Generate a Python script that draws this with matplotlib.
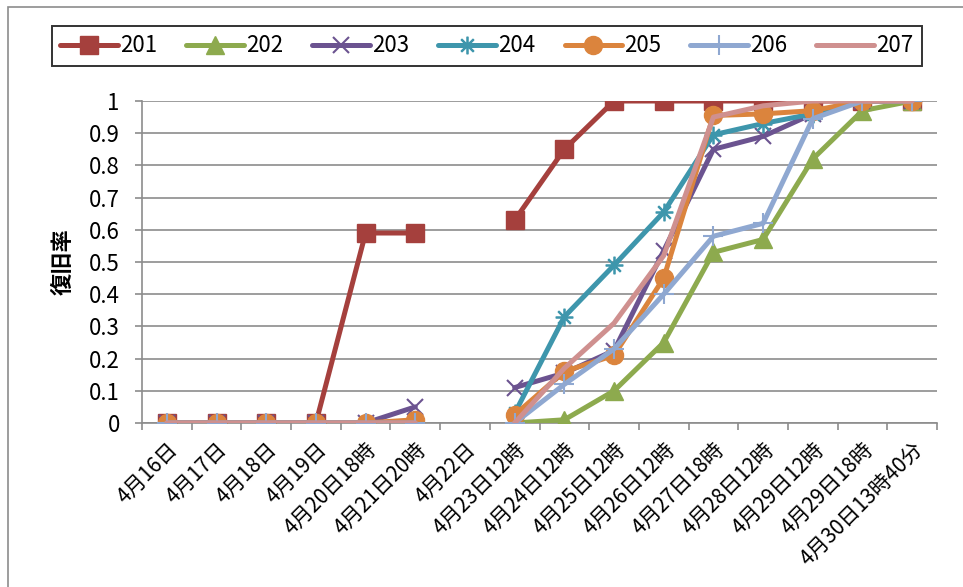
import numpy as np
import matplotlib
matplotlib.use("Agg")
import matplotlib.pyplot as plt
from matplotlib.patches import Rectangle

plt.rcParams['font.family'] = ['Noto Sans CJK JP', 'DejaVu Sans']

categories = ["4月16日", "4月17日", "4月18日", "4月19日", "4月20日18時", "4月21日20時",
              "4月22日", "4月23日12時", "4月24日12時", "4月25日12時", "4月26日12時",
              "4月27日18時", "4月28日12時", "4月29日12時", "4月29日18時", "4月30日13時40分"]
nan = np.nan
s201 = [0, 0, 0, 0, 0.59, 0.59, nan, 0.63, 0.85, 1.0, 1.0, 1.0, 1.0, 1.0, 1.0, 1.0]
s202 = [0, 0, 0, 0, 0, 0, nan, 0.0, 0.01, 0.10, 0.25, 0.53, 0.57, 0.82, 0.97, 1.0]
s203 = [0, 0, 0, 0, 0, 0.05, nan, 0.11, 0.155, 0.225, 0.535, 0.85, 0.89, 0.96, 1.0, 1.0]
s204 = [0, 0, 0, 0, 0, 0, nan, 0.03, 0.33, 0.49, 0.655, 0.895, 0.93, 0.96, 1.0, 1.0]
s205 = [0, 0, 0, 0, 0, 0.01, nan, 0.025, 0.16, 0.21, 0.45, 0.955, 0.96, 0.97, 1.0, 1.0]
s206 = [0, 0, 0, 0, 0, 0, nan, 0.0, 0.12, 0.23, 0.40, 0.58, 0.62, 0.945, 1.0, 1.0]
s207 = [0, 0, 0, 0, 0, 0, nan, 0.0, 0.17, 0.31, 0.52, 0.95, 0.985, 1.0, 1.0, 1.0]
series_names = ["201", "202", "203", "204", "205", "206", "207"]
y_ticks = [0, 0.1, 0.2, 0.3, 0.4, 0.5, 0.6, 0.7, 0.8, 0.9, 1]
y_ticklabels = ["0", "0.1", "0.2", "0.3", "0.4", "0.5", "0.6", "0.7", "0.8", "0.9", "1"]
ylabel = "復旧率"

data = [s201, s202, s203, s204, s205, s206, s207]
colors = ['#A5403D', '#8DAA4E', '#6B5390', '#3E96AC', '#DB843D', '#8FA8D1', '#CF908F']
markers = ['s', '^', 'x', '$\u2733$', 'o', '+', None]
msizes = [13, 13, 12, 12, 13, 14, 0]

fig = plt.figure(figsize=(9.63, 5.87), dpi=100)
ax = fig.add_axes([142 / 963, 1 - 423 / 587, (937 - 142) / 963, (423 - 101) / 587])

# outer chart frame
fig.patches.append(Rectangle((8 / 963, -0.05), 1.2, 1 - 7 / 587 + 0.05, transform=fig.transFigure,
                             fill=False, edgecolor='#8C8C8C', linewidth=1.2))

x = np.arange(len(categories))
handles = []
for name, vals, c, m, ms in zip(series_names, data, colors, markers, msizes):
    if m is None:
        h, = ax.plot(x, vals, color=c, lw=3.6, label=name, solid_capstyle='round', zorder=3)
    elif m in ('x', '+'):
        h, = ax.plot(x, vals, color=c, lw=3.6, marker=m, markersize=ms, markeredgewidth=1.5,
                     label=name, solid_capstyle='round', zorder=3)
    else:
        h, = ax.plot(x, vals, color=c, lw=3.6, marker=m, markersize=ms, markeredgecolor=c,
                     markerfacecolor=c, label=name, solid_capstyle='round', zorder=3)
    handles.append(h)

ax.set_xlim(-0.5, len(categories) - 0.5)
ax.set_ylim(0, 1)
ax.set_yticks(y_ticks)
ax.set_yticklabels(y_ticklabels, fontsize=16)
ax.yaxis.grid(True, color='#8C8C8C', lw=1.2)
ax.set_axisbelow(True)
ax.set_xticks(x)
ax.set_xticklabels(categories, rotation=45, ha='right', rotation_mode='anchor', fontsize=15)
ax.set_xticks(np.arange(len(categories) + 1) - 0.5, minor=True)
ax.tick_params(axis='x', which='major', length=0, pad=11)
ax.tick_params(axis='x', which='minor', length=5, color='#8C8C8C', width=1.2)
ax.tick_params(axis='y', length=5, color='#8C8C8C', width=1.2, pad=11)
for s in ['top', 'right']:
    ax.spines[s].set_visible(False)
ax.spines['left'].set_color('#8C8C8C')
ax.spines['bottom'].set_color('#8C8C8C')
ax.spines['left'].set_linewidth(1.2)
ax.spines['bottom'].set_linewidth(1.2)

ax.set_ylabel(ylabel, fontsize=16, fontweight='bold', labelpad=10)

leg = fig.legend(handles=handles, loc='center', bbox_to_anchor=(487 / 963, 1 - 46 / 587),
                 ncol=7, fontsize=16, frameon=True, fancybox=False, edgecolor='black',
                 handlelength=2.6, columnspacing=1.3, handletextpad=0.1, borderpad=0.4)
leg.get_frame().set_linewidth(1.4)

fig.savefig("out.png", dpi=100)
